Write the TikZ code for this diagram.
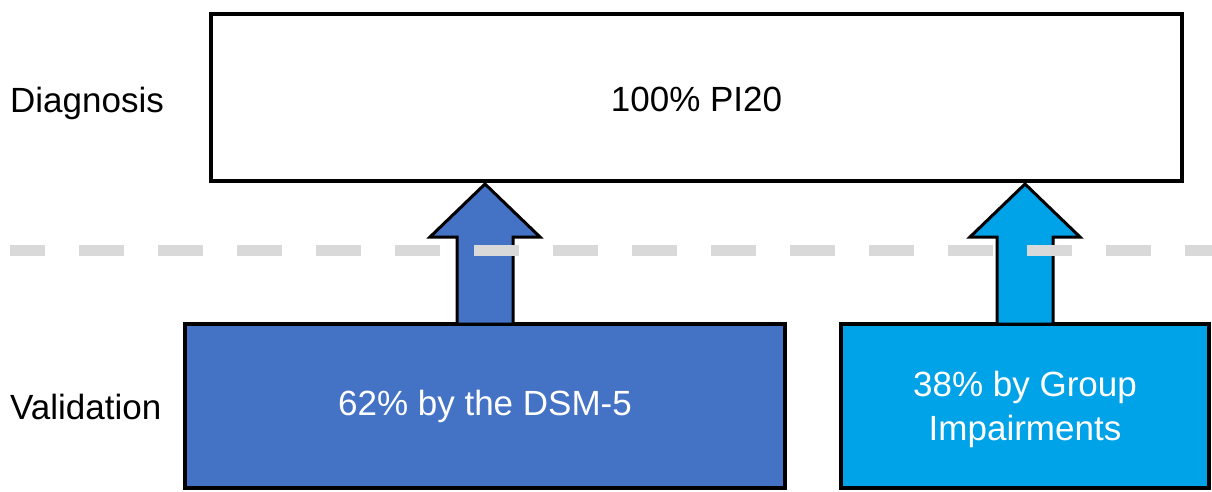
\documentclass[tikz,border=0pt]{standalone}
\usepackage{fontspec}
\setmainfont{Liberation Sans}
\definecolor{boxblue}{HTML}{4472C4}
\definecolor{boxcyan}{HTML}{00A2E8}
\definecolor{dashgray}{HTML}{D9D9D9}
\begin{document}
\begin{tikzpicture}[x=1pt,y=-1pt,
  lab/.style={font=\fontsize{35}{44}\selectfont, inner sep=0pt},
  boxstyle/.style={draw=black, line width=4pt, inner sep=0pt, align=center,
    font=\fontsize{35}{44}\selectfont},
  arrowstyle/.style={draw=black, line width=3pt, line join=miter}]
\useasboundingbox (0,0) rectangle (1212,491);
\node[boxstyle, fill=white, minimum width=971pt, minimum height=167pt] (diag) at (696.5,97.5) {\raisebox{-2pt}[\height][\depth]{100\% PI20}};
\node[boxstyle, fill=boxblue, text=white, minimum width=600pt, minimum height=164pt] (dsm) at (485,406) {62\% by the DSM-5};
\node[boxstyle, fill=boxcyan, text=white, minimum width=368pt, minimum height=164pt] (grp) at (1025,406) {\raisebox{-3pt}[\height][\depth]{\parbox{300pt}{\centering 38\% by Group\\Impairments}}};
\node[lab, anchor=base west] (tdiag) at (10,112) {Diagnosis};
\node[lab, anchor=base west] (tval) at (10,419) {Validation};
% arrows
\draw[arrowstyle, fill=boxblue] (457,324) -- (457,237) -- (430,237) -- (485,184) -- (540,237) -- (513,237) -- (513,324) -- cycle;
\draw[arrowstyle, fill=boxcyan] (997,324) -- (997,237) -- (970,237) -- (1025,184) -- (1080,237) -- (1053,237) -- (1053,324) -- cycle;
% dashed separator
\coordinate (dl) at (10,250);
\coordinate (dr) at (1212,250);
\draw[dashgray, line width=11pt, dash pattern=on 45pt off 34pt, dash phase=10pt] (dl) -- (dr);
\end{tikzpicture}
\end{document}
